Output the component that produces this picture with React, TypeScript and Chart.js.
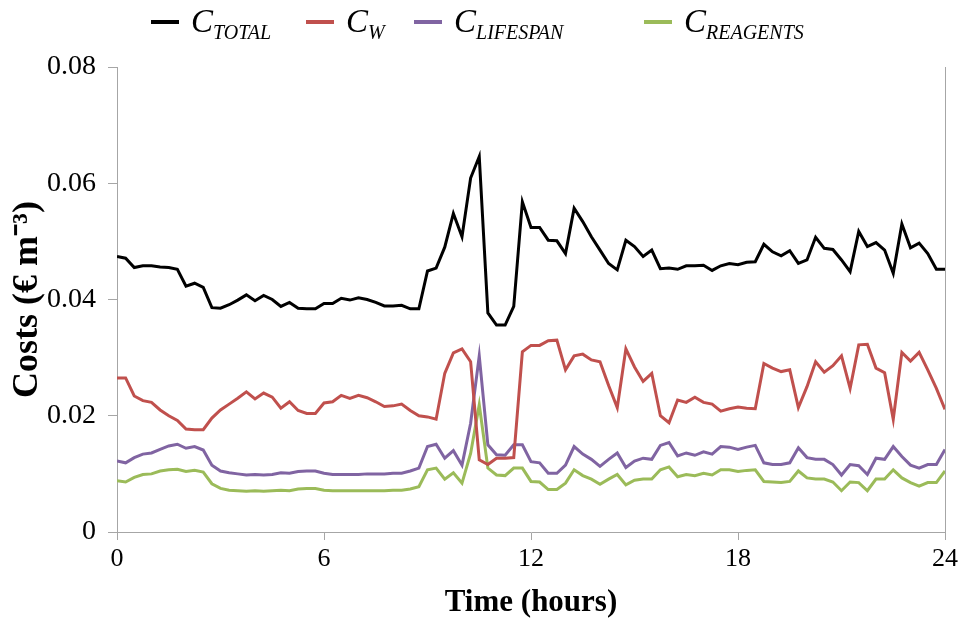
import React, { useEffect, useRef } from "react";
import { Chart, registerables } from "chart.js";

Chart.register(...registerables);

// Time step between samples (hours) and axis ticks
const STEP_HOURS = 0.25;
const xTickValues = [0, 6, 12, 18, 24];
const yTickValues = [0, 0.02, 0.04, 0.06, 0.08];

const seriesNames = ["TOTAL", "W", "LIFESPAN", "REAGENTS"];
const seriesColors = ["#000000", "#c0504d", "#8064a2", "#9bbb59"];

const cTotal = [
  0.0474, 0.0471, 0.0455, 0.0458, 0.0458, 0.0456, 0.0455, 0.0452, 0.0423, 0.0428, 0.0421, 0.0386,
  0.0385, 0.0391, 0.0399, 0.0408, 0.0398, 0.0407, 0.0400, 0.0388, 0.0395, 0.0385, 0.0384, 0.0384,
  0.0393, 0.0393, 0.0402, 0.0399, 0.0403, 0.0400, 0.0395, 0.0389, 0.0389, 0.0390, 0.0384, 0.0384,
  0.0449, 0.0454, 0.0490, 0.0548, 0.0508, 0.0609, 0.0646, 0.0377, 0.0356, 0.0356, 0.0388, 0.0568, 0.0524,
  0.0524, 0.0502, 0.0501, 0.0479, 0.0557, 0.0534, 0.0508, 0.0485, 0.0462, 0.0451, 0.0502, 0.0491,
  0.0474, 0.0485, 0.0453, 0.0454, 0.0452, 0.0458, 0.0458, 0.0459, 0.0450, 0.0458, 0.0462, 0.0460,
  0.0464, 0.0465, 0.0495, 0.0482, 0.0475, 0.0484, 0.0462, 0.0468, 0.0507, 0.0488, 0.0486, 0.0468,
  0.0448, 0.0517, 0.0491, 0.0498, 0.0485, 0.0445, 0.0530, 0.0489, 0.0497, 0.0479, 0.0452, 0.0452,
];

const cW = [
  0.0265, 0.0265, 0.0234, 0.0226, 0.0223, 0.0210, 0.0200, 0.0192, 0.0177, 0.0176, 0.0176, 0.0196,
  0.0210, 0.0220, 0.0230, 0.0241, 0.0229, 0.0239, 0.0232, 0.0213, 0.0224, 0.0209, 0.0204, 0.0204,
  0.0222, 0.0224, 0.0235, 0.0230, 0.0235, 0.0231, 0.0224, 0.0216, 0.0217, 0.0220, 0.0209, 0.0200,
  0.0198, 0.0194, 0.0273, 0.0308, 0.0315, 0.0293, 0.0124, 0.0116, 0.0127, 0.0127, 0.0128, 0.0310, 0.0321,
  0.0321, 0.0329, 0.0330, 0.0279, 0.0303, 0.0306, 0.0296, 0.0293, 0.0252, 0.0214, 0.0315, 0.0284,
  0.0259, 0.0273, 0.0200, 0.0188, 0.0227, 0.0223, 0.0232, 0.0223, 0.0220, 0.0208, 0.0212, 0.0215,
  0.0213, 0.0212, 0.0290, 0.0282, 0.0276, 0.0279, 0.0214, 0.0250, 0.0293, 0.0275, 0.0286, 0.0303,
  0.0247, 0.0322, 0.0323, 0.0282, 0.0274, 0.0194, 0.0309, 0.0294, 0.0309, 0.0279, 0.0247, 0.0211,
];

const cLifespan = [
  0.0122, 0.0119, 0.0128, 0.0134, 0.0136, 0.0142, 0.0148, 0.0151, 0.0144, 0.0147, 0.0141, 0.0115,
  0.0105, 0.0102, 0.0100, 0.0098, 0.0099, 0.0098, 0.0099, 0.0102, 0.0101, 0.0104, 0.0105, 0.0105,
  0.0101, 0.0099, 0.0099, 0.0099, 0.0099, 0.0100, 0.0100, 0.0100, 0.0101, 0.0101, 0.0105, 0.0110,
  0.0147, 0.0151, 0.0127, 0.0140, 0.0115, 0.0187, 0.0303, 0.0150, 0.0133, 0.0132, 0.0150, 0.0150, 0.0121,
  0.0119, 0.0101, 0.0101, 0.0115, 0.0147, 0.0134, 0.0125, 0.0113, 0.0125, 0.0136, 0.0111, 0.0122,
  0.0127, 0.0125, 0.0149, 0.0154, 0.0131, 0.0136, 0.0132, 0.0138, 0.0134, 0.0147, 0.0146, 0.0142,
  0.0146, 0.0149, 0.0119, 0.0116, 0.0116, 0.0119, 0.0145, 0.0128, 0.0125, 0.0125, 0.0116, 0.0098,
  0.0116, 0.0114, 0.0099, 0.0127, 0.0125, 0.0147, 0.0130, 0.0115, 0.0110, 0.0116, 0.0116, 0.0142,
];

const cReagents = [
  0.0088, 0.0086, 0.0094, 0.0099, 0.0100, 0.0105, 0.0107, 0.0108, 0.0104, 0.0106, 0.0103, 0.0083,
  0.0075, 0.0072, 0.0071, 0.0070, 0.0071, 0.0070, 0.0071, 0.0072, 0.0071, 0.0074, 0.0075, 0.0075,
  0.0072, 0.0071, 0.0071, 0.0071, 0.0071, 0.0071, 0.0071, 0.0071, 0.0072, 0.0072, 0.0074, 0.0078,
  0.0107, 0.0110, 0.0091, 0.0102, 0.0084, 0.0135, 0.0219, 0.0110, 0.0098, 0.0097, 0.0110, 0.0110, 0.0087,
  0.0086, 0.0073, 0.0073, 0.0084, 0.0107, 0.0097, 0.0091, 0.0082, 0.0091, 0.0099, 0.0081, 0.0089,
  0.0091, 0.0091, 0.0107, 0.0112, 0.0095, 0.0099, 0.0097, 0.0101, 0.0098, 0.0107, 0.0107, 0.0104,
  0.0106, 0.0107, 0.0087, 0.0086, 0.0085, 0.0087, 0.0105, 0.0093, 0.0091, 0.0091, 0.0086, 0.0071,
  0.0086, 0.0085, 0.0071, 0.0091, 0.0091, 0.0107, 0.0093, 0.0085, 0.0079, 0.0085, 0.0085, 0.0105,
];

const seriesValues = [cTotal, cW, cLifespan, cReagents];

const FONT = "'Liberation Serif', 'Times New Roman', serif";
const AXIS_GREY = "#a6a6a6";

// legend layout (px from left of the 962px frame)
const legendSwatchX = [151, 306, 414, 644];

const rightBorder = {
  id: "rightBorder",
  afterDraw(chart: any) {
    const { ctx, chartArea } = chart;
    ctx.save();
    ctx.strokeStyle = AXIS_GREY;
    ctx.lineWidth = 1;
    ctx.beginPath();
    const x = Math.round(chartArea.right) + 0.5;
    ctx.moveTo(x, chartArea.top);
    ctx.lineTo(x, chartArea.bottom);
    ctx.stroke();
    ctx.restore();
  },
};

export default function App() {
  const canvasRef = useRef<HTMLCanvasElement>(null);

  useEffect(() => {
    if (!canvasRef.current) return;
    const toPoints = (arr: number[]) => arr.map((v, i) => ({ x: i * STEP_HOURS, y: v }));
    const chart = new Chart(canvasRef.current, {
      type: "line",
      data: {
        datasets: seriesValues.map((vals, k) => ({
          label: "C" + seriesNames[k],
          data: toPoints(vals),
          borderColor: seriesColors[k],
          backgroundColor: seriesColors[k],
          borderWidth: 3,
          pointRadius: 0,
          tension: 0,
          fill: false,
        })),
      },
      options: {
        responsive: false,
        animation: false,
        layout: { padding: { top: 67, right: 17, left: 0, bottom: 0 } },
        plugins: {
          legend: { display: false },
          tooltip: { enabled: false },
        },
        scales: {
          x: {
            type: "linear",
            min: 0,
            max: 24,
            afterBuildTicks: (s: any) => {
              s.ticks = xTickValues.map((v) => ({ value: v }));
            },
            afterFit: (s: any) => {
              s.height = 92;
            },
            grid: {
              display: true,
              drawOnChartArea: false,
              drawTicks: true,
              tickLength: 8,
              color: AXIS_GREY,
            },
            border: { display: true, color: AXIS_GREY, width: 1 },
            ticks: {
              color: "#000",
              font: { family: FONT, size: 26 },
              padding: 4,
              maxRotation: 0,
              callback: (v: any) => String(v),
            },
            title: {
              display: true,
              text: "Time (hours)",
              color: "#000",
              font: { family: FONT, size: 31, weight: "bold" },
              padding: { top: 0, bottom: 2 },
            },
          },
          y: {
            type: "linear",
            min: 0,
            max: 0.08,
            afterBuildTicks: (s: any) => {
              s.ticks = yTickValues.map((v) => ({ value: v }));
            },
            afterFit: (s: any) => {
              s.width = 117;
            },
            grid: {
              display: true,
              drawOnChartArea: false,
              drawTicks: true,
              tickLength: 9,
              color: AXIS_GREY,
            },
            border: { display: true, color: AXIS_GREY, width: 1 },
            ticks: {
              color: "#000",
              font: { family: FONT, size: 28 },
              padding: 12,
              callback: (v: any) => (v === 0 ? "0" : Number(v).toFixed(2)),
            },
            title: {
              display: true,
              text: "Costs (€ m⁻³)",
              color: "#000",
              font: { family: FONT, size: 36, weight: "bold" },
              padding: { top: 6, bottom: 0 },
            },
          },
        },
      },
      plugins: [rightBorder],
    });
    return () => chart.destroy();
  }, []);

  return (
    <div style={{ position: "absolute", left: 0, top: 0, width: 962, height: 624, background: "#fff" }}>
      <canvas ref={canvasRef} width={962} height={624} style={{ width: 962, height: 624, display: "block" }} />
      {seriesNames.map((name, k) => (
        <div
          key={name}
          style={{
            position: "absolute",
            left: legendSwatchX[k],
            top: 0,
            height: 44,
            display: "flex",
            alignItems: "center",
            fontFamily: FONT,
            fontStyle: "italic",
            color: "#000",
            whiteSpace: "nowrap",
          }}
        >
          <span
            style={{
              display: "inline-block",
              width: 28,
              height: 4,
              background: seriesColors[k],
              marginRight: 12,
            }}
          />
          <span style={{ fontSize: 33, lineHeight: "36px", position: "relative", top: 4 }}>
            C<sub style={{ fontSize: 20, verticalAlign: "-7px" }}>{name}</sub>
          </span>
        </div>
      ))}
    </div>
  );
}
